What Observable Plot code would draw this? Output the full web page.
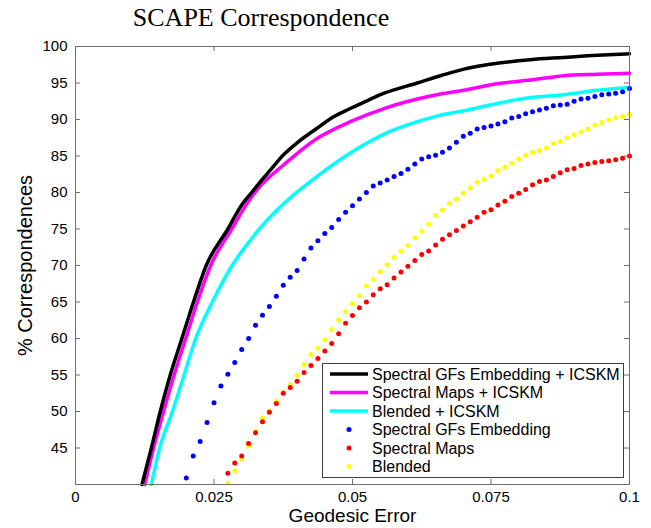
<!DOCTYPE html>
<html>
<head>
<meta charset="utf-8">
<script src="https://cdn.jsdelivr.net/npm/d3@7"></script>
<script src="https://cdn.jsdelivr.net/npm/@observablehq/plot@0.6"></script>
<style>
  body { margin: 0; background: white; }
  #wrap { position: relative; width: 651px; height: 528px; overflow: hidden; background: white; }
  #title { position: absolute; left: 0; top: 5px; width: 522px; text-align: center;
           font-family: "Liberation Serif", "Times New Roman", serif; font-size: 26px; line-height: 26px; color: #000; }
  #legend { position: absolute; left: 322px; top: 363px; }
</style>
</head>
<body>
<div id="wrap">
  <div id="title">SCAPE Correspondence</div>
</div>
<script>
// ---------- data ----------
const xTicks = [0, 0.025, 0.05, 0.075, 0.1];
const xTickLabels = ["0", "0.025", "0.05", "0.075", "0.1"];
const yTicks = [45, 50, 55, 60, 65, 70, 75, 80, 85, 90, 95, 100];

const seriesNames = [
  "Spectral GFs Embedding + ICSKM",
  "Spectral Maps + ICSKM",
  "Blended + ICSKM",
  "Spectral GFs Embedding",
  "Spectral Maps",
  "Blended"
];
const seriesColors = ["#000000", "#ff00ff", "#00ffff", "#0000ff", "#ff0000", "#ffff00"];
const seriesKinds = ["line", "line", "line", "dot", "dot", "dot"];

// solid curves
const blackX = [0.0120, 0.0137, 0.0153, 0.0171, 0.0192, 0.0213, 0.0236, 0.0275, 0.0300, 0.0318, 0.0335, 0.0352, 0.0376, 0.0400, 0.0436, 0.0460, 0.0496, 0.0530, 0.0557, 0.0617, 0.0659, 0.0701, 0.0761, 0.0821, 0.0881, 0.0942, 0.1];
const blackY = [40, 45, 50, 55, 60, 65, 70, 75, 78.3, 80.0, 81.6, 83.1, 85.2, 86.8, 88.8, 90.1, 91.5, 92.7, 93.6, 95.0, 96.0, 96.9, 97.7, 98.2, 98.5, 98.8, 99.0];

const magentaX = [0.0125, 0.0141, 0.0159, 0.0178, 0.0199, 0.0220, 0.0244, 0.0282, 0.0316, 0.0335, 0.0376, 0.0436, 0.0496, 0.0557, 0.0617, 0.0659, 0.0701, 0.0761, 0.0821, 0.0881, 0.0942, 0.1];
const magentaY = [40, 45, 50, 55, 60, 65, 70, 75, 79.2, 81.0, 83.8, 87.4, 89.7, 91.5, 92.8, 93.5, 94.0, 94.9, 95.4, 96.0, 96.2, 96.35];

const cyanX = [0.0137, 0.0152, 0.0175, 0.0196, 0.0217, 0.0247, 0.0281, 0.0316, 0.0334, 0.0376, 0.0436, 0.0496, 0.0557, 0.0617, 0.0659, 0.0701, 0.0761, 0.0821, 0.0881, 0.0942, 0.1];
const cyanY = [40, 45, 50, 55, 60, 65, 69.8, 73.5, 75.2, 78.5, 82.2, 85.4, 88.0, 89.7, 90.6, 91.2, 92.2, 93.0, 93.4, 94.0, 94.4];

// dotted curves (sampled every 0.00125)
const dotX = [0.02, 0.02125, 0.0225, 0.02375, 0.025, 0.02625, 0.0275, 0.02875, 0.03, 0.03125,
  0.0325, 0.03375, 0.035, 0.03625, 0.0375, 0.03875, 0.04, 0.04125, 0.0425, 0.04375,
  0.045, 0.04625, 0.0475, 0.04875, 0.05, 0.05125, 0.0525, 0.05375, 0.055, 0.05625,
  0.0575, 0.05875, 0.06, 0.06125, 0.0625, 0.06375, 0.065, 0.06625, 0.0675, 0.06875,
  0.07, 0.07125, 0.0725, 0.07375, 0.075, 0.07625, 0.0775, 0.07875, 0.08, 0.08125,
  0.0825, 0.08375, 0.085, 0.08625, 0.0875, 0.08875, 0.09, 0.09125, 0.0925, 0.09375,
  0.095, 0.09625, 0.0975, 0.09875, 0.1];
const blueY = [40.9, 43.9, 45.9, 48.5, 51.2, 53.5, 55.1, 56.7, 58.5, 60.0,
  61.8, 63.2, 64.4, 65.8, 67.3, 68.4, 69.3, 70.9, 72.4, 73.4,
  74.4, 75.2, 76.3, 77.3, 78.2, 79.1, 80.0, 80.9, 81.3, 81.7,
  82.2, 82.6, 83.2, 83.9, 84.6, 84.9, 85.1, 85.5, 86.1, 86.9,
  87.7, 88.1, 88.7, 88.9, 89.1, 89.4, 89.7, 90.2, 90.4, 90.8,
  91.05, 91.3, 91.55, 91.9, 92.0, 92.1, 92.5, 92.8, 92.9, 93.15,
  93.4, 93.5, 93.6, 93.8, 94.25];
const redY = [41.55, 42.95, 43.9, 45.6, 47.1, 48.6, 49.9, 51.1, 52.5, 53.3,
  54.15, 55.35, 56.3, 57.25, 58.3, 59.3, 60.65, 62.1, 63.15, 64.2,
  65.0, 66.0, 66.8, 67.35, 68.3, 69.1, 69.9, 70.7, 71.5, 72.0,
  72.8, 73.6, 74.2, 74.8, 75.4, 76.0, 76.6, 77.3, 77.65, 78.3,
  78.8, 79.45, 79.9, 80.4, 81.05, 81.5, 81.7, 82.2, 82.7, 83.1,
  83.3, 83.7, 83.9, 84.1, 84.25, 84.35, 84.5, 84.7, 85.0];
const yellowY = [40.2, 41.9, 43.5, 45.25, 47.3, 49.1, 50.1, 51.4, 52.6, 53.65,
  54.95, 56.45, 57.8, 58.65, 59.8, 61.25, 62.55, 63.7, 64.75, 65.85,
  67.2, 68.1, 69.15, 70.1, 71.1, 72.0, 72.75, 73.8, 74.7, 75.7,
  76.9, 77.6, 78.5, 79.1, 79.9, 80.6, 81.4, 81.8, 82.3, 83.0,
  83.5, 84.0, 84.6, 85.1, 85.5, 85.75, 86.1, 86.7, 87.0, 87.5,
  87.9, 88.3, 88.7, 89.2, 89.6, 89.95, 90.2, 90.4, 90.7];

// ---------- build tables ----------
const zip = (xs, ys) => ys.map((y, i) => ({x: xs[i], y}));
const blackData = zip(blackX, blackY);
const magentaData = zip(magentaX, magentaY);
const cyanData = zip(cyanX, cyanY);
const blueData = zip(dotX, blueY);
const lateX = dotX.slice(dotX.length - redY.length);
const redData = zip(lateX, redY);
const yellowData = zip(lateX, yellowY);

// ---------- layout ----------
const W = 651, H = 528;
const mL = 75, mR = 22, mT = 46, mB = 44;
const innerW = W - mL - mR, innerH = H - mT - mB;
const frameColor = "#6e6e6e";

const chart = Plot.plot({
  width: W, height: H,
  marginLeft: mL, marginRight: mR, marginTop: mT, marginBottom: mB,
  x: {domain: [0, 0.1]},
  y: {domain: [40, 100]},
  style: {fontFamily: "'Liberation Sans', Arial, sans-serif", fontSize: "15px", color: "#000", background: "white", overflow: "visible"},
  marks: [
    Plot.ruleX(xTicks, {x: d => d, stroke: frameColor, insetTop: innerH - 5}),
    Plot.ruleX(xTicks, {x: d => d, stroke: frameColor, insetBottom: innerH - 5}),
    Plot.ruleY(yTicks, {y: d => d, stroke: frameColor, insetRight: innerW - 5}),
    Plot.ruleY(yTicks, {y: d => d, stroke: frameColor, insetLeft: innerW - 5}),
    Plot.axisX({ticks: xTicks, tickSize: 0, tickPadding: 7, tickFormat: d => xTickLabels[xTicks.indexOf(d)], label: null, fill: "#000"}),
    Plot.axisY({ticks: yTicks, tickSize: 0, tickPadding: 8, label: null, fill: "#000"}),
    Plot.line(cyanData, {x: "x", y: "y", stroke: seriesColors[2], strokeWidth: 3.5, curve: "monotone-x"}),
    Plot.line(magentaData, {x: "x", y: "y", stroke: seriesColors[1], strokeWidth: 3.5, curve: "monotone-x"}),
    Plot.line(blackData, {x: "x", y: "y", stroke: seriesColors[0], strokeWidth: 3.5, curve: "monotone-x"}),
    Plot.dot(yellowData, {x: "x", y: "y", fill: seriesColors[5], r: 2.5}),
    Plot.dot(redData, {x: "x", y: "y", fill: seriesColors[4], r: 2.5}),
    Plot.dot(blueData, {x: "x", y: "y", fill: seriesColors[3], r: 2.5}),
    Plot.frame({stroke: frameColor}),
    Plot.text(["Geodesic Error"], {text: d => d, frameAnchor: "bottom", textAnchor: "middle", dy: 37, fontSize: 19, fill: "#000"}),
    Plot.text(["% Correspondences"], {text: d => d, frameAnchor: "left", textAnchor: "middle", lineAnchor: "middle", rotate: -90, dx: -50, fontSize: 20, fill: "#000"})
  ]
});
const wrap = document.getElementById("wrap");
chart.style.position = "absolute";
chart.style.left = "0px";
chart.style.top = "0px";
wrap.insertBefore(chart, wrap.firstChild);

// ---------- legend ----------
const lgW = 302, lgH = 115, rowH = 18.5, row0 = 11;
const lg = d3.select(wrap).append("svg")
  .attr("id", "legend").attr("width", lgW).attr("height", lgH)
  .style("font-family", "'Liberation Sans', Arial, sans-serif").style("font-size", "16px");
lg.append("rect").attr("x", 0.5).attr("y", 0.5).attr("width", lgW - 1).attr("height", lgH - 1)
  .attr("fill", "white").attr("stroke", "#404040");
seriesNames.forEach((name, i) => {
  const cy = row0 + i * rowH;
  if (seriesKinds[i] === "line") {
    lg.append("line").attr("x1", 8).attr("x2", 46).attr("y1", cy).attr("y2", cy)
      .attr("stroke", seriesColors[i]).attr("stroke-width", 3.5);
  } else {
    lg.append("circle").attr("cx", 27).attr("cy", cy).attr("r", 2.5).attr("fill", seriesColors[i]);
  }
  lg.append("text").attr("x", 50).attr("y", cy).attr("dy", "0.35em").attr("fill", "#000").text(name);
});
</script>
</body>
</html>
